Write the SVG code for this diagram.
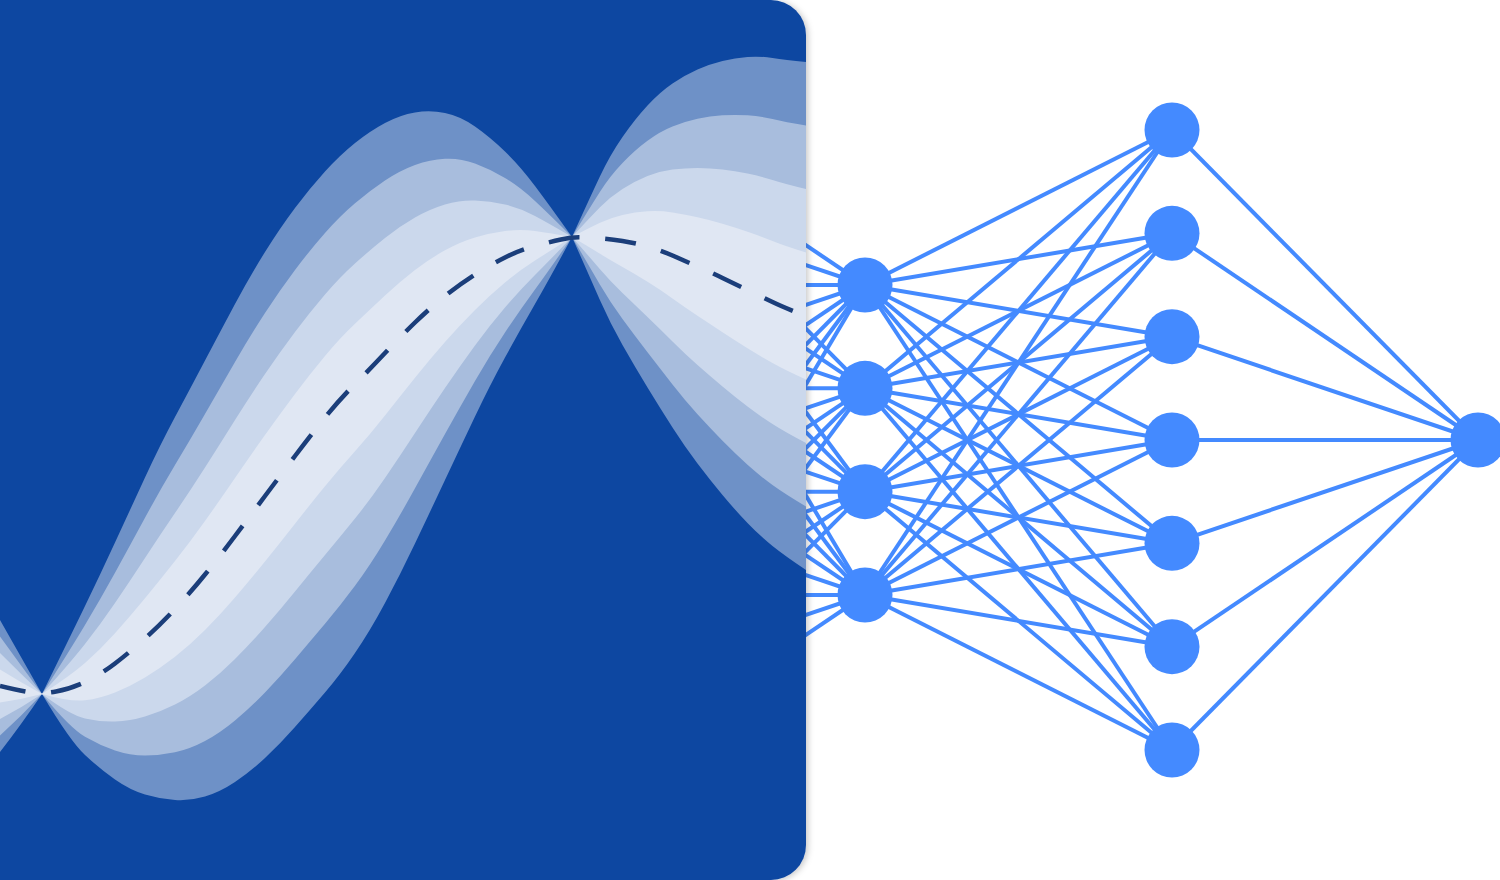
<svg xmlns="http://www.w3.org/2000/svg" width="1500" height="880" viewBox="0 0 1500 880">
  <defs>
    <style>
      .edge { stroke: #448AFF; stroke-width: 4; stroke-linecap: butt; fill: none; }
      .node { fill: #448AFF; }
      .mean { fill: none; stroke: #1B3E7A; stroke-width: 4.5; stroke-dasharray: 31 26; stroke-dashoffset: 5; stroke-linejoin: round; }
      .b4 { fill: #6E91C7; }
      .b3 { fill: #A8BDDD; }
      .b2 { fill: #CBD8EC; }
      .b1 { fill: #E0E7F3; }
    </style>
    <clipPath id="panelClip">
      <rect x="-40" y="0" width="846" height="880" rx="35"/>
    </clipPath>
    <filter id="shadow" x="-5%" y="-5%" width="112%" height="110%">
      <feDropShadow dx="2" dy="1" stdDeviation="3" flood-color="#000000" flood-opacity="0.22"/>
    </filter>
  </defs>

  <rect x="0" y="0" width="1500" height="880" fill="#FFFFFF"/>

  <g id="connectors">
    <line class="edge" x1="800" y1="241.2" x2="865" y2="285"/>
    <line class="edge" x1="800" y1="263.1" x2="865" y2="285"/>
    <line class="edge" x1="800" y1="285" x2="865" y2="285"/>
    <line class="edge" x1="800" y1="306.9" x2="865" y2="285"/>
    <line class="edge" x1="800" y1="328.8" x2="865" y2="285"/>
    <line class="edge" x1="800" y1="350.6" x2="865" y2="285"/>
    <line class="edge" x1="800" y1="372.5" x2="865" y2="285"/>
    <line class="edge" x1="800" y1="394.4" x2="865" y2="285"/>

    <line class="edge" x1="800" y1="322.7" x2="865" y2="388.3"/>
    <line class="edge" x1="800" y1="344.6" x2="865" y2="388.3"/>
    <line class="edge" x1="800" y1="366.4" x2="865" y2="388.3"/>
    <line class="edge" x1="800" y1="388.3" x2="865" y2="388.3"/>
    <line class="edge" x1="800" y1="410.2" x2="865" y2="388.3"/>
    <line class="edge" x1="800" y1="432.1" x2="865" y2="388.3"/>
    <line class="edge" x1="800" y1="454.0" x2="865" y2="388.3"/>
    <line class="edge" x1="800" y1="475.8" x2="865" y2="388.3"/>

    <line class="edge" x1="800" y1="404.2" x2="865" y2="491.7"/>
    <line class="edge" x1="800" y1="426.1" x2="865" y2="491.7"/>
    <line class="edge" x1="800" y1="448.0" x2="865" y2="491.7"/>
    <line class="edge" x1="800" y1="469.8" x2="865" y2="491.7"/>
    <line class="edge" x1="800" y1="491.7" x2="865" y2="491.7"/>
    <line class="edge" x1="800" y1="513.6" x2="865" y2="491.7"/>
    <line class="edge" x1="800" y1="535.5" x2="865" y2="491.7"/>
    <line class="edge" x1="800" y1="557.3" x2="865" y2="491.7"/>

    <line class="edge" x1="800" y1="485.6" x2="865" y2="595"/>
    <line class="edge" x1="800" y1="507.5" x2="865" y2="595"/>
    <line class="edge" x1="800" y1="529.4" x2="865" y2="595"/>
    <line class="edge" x1="800" y1="551.3" x2="865" y2="595"/>
    <line class="edge" x1="800" y1="573.1" x2="865" y2="595"/>
    <line class="edge" x1="800" y1="595" x2="865" y2="595"/>
    <line class="edge" x1="800" y1="616.9" x2="865" y2="595"/>
    <line class="edge" x1="800" y1="638.8" x2="865" y2="595"/>

    <line class="edge" x1="865" y1="285" x2="1172" y2="130"/>
    <line class="edge" x1="865" y1="285" x2="1172" y2="233.3"/>
    <line class="edge" x1="865" y1="285" x2="1172" y2="336.7"/>
    <line class="edge" x1="865" y1="285" x2="1172" y2="440"/>
    <line class="edge" x1="865" y1="285" x2="1172" y2="543.3"/>
    <line class="edge" x1="865" y1="285" x2="1172" y2="646.7"/>
    <line class="edge" x1="865" y1="285" x2="1172" y2="750"/>

    <line class="edge" x1="865" y1="388.3" x2="1172" y2="130"/>
    <line class="edge" x1="865" y1="388.3" x2="1172" y2="233.3"/>
    <line class="edge" x1="865" y1="388.3" x2="1172" y2="336.7"/>
    <line class="edge" x1="865" y1="388.3" x2="1172" y2="440"/>
    <line class="edge" x1="865" y1="388.3" x2="1172" y2="543.3"/>
    <line class="edge" x1="865" y1="388.3" x2="1172" y2="646.7"/>
    <line class="edge" x1="865" y1="388.3" x2="1172" y2="750"/>

    <line class="edge" x1="865" y1="491.7" x2="1172" y2="130"/>
    <line class="edge" x1="865" y1="491.7" x2="1172" y2="233.3"/>
    <line class="edge" x1="865" y1="491.7" x2="1172" y2="336.7"/>
    <line class="edge" x1="865" y1="491.7" x2="1172" y2="440"/>
    <line class="edge" x1="865" y1="491.7" x2="1172" y2="543.3"/>
    <line class="edge" x1="865" y1="491.7" x2="1172" y2="646.7"/>
    <line class="edge" x1="865" y1="491.7" x2="1172" y2="750"/>

    <line class="edge" x1="865" y1="595" x2="1172" y2="130"/>
    <line class="edge" x1="865" y1="595" x2="1172" y2="233.3"/>
    <line class="edge" x1="865" y1="595" x2="1172" y2="336.7"/>
    <line class="edge" x1="865" y1="595" x2="1172" y2="440"/>
    <line class="edge" x1="865" y1="595" x2="1172" y2="543.3"/>
    <line class="edge" x1="865" y1="595" x2="1172" y2="646.7"/>
    <line class="edge" x1="865" y1="595" x2="1172" y2="750"/>

    <line class="edge" x1="1172" y1="130" x2="1478" y2="440"/>
    <line class="edge" x1="1172" y1="233.3" x2="1478" y2="440"/>
    <line class="edge" x1="1172" y1="336.7" x2="1478" y2="440"/>
    <line class="edge" x1="1172" y1="440" x2="1478" y2="440"/>
    <line class="edge" x1="1172" y1="543.3" x2="1478" y2="440"/>
    <line class="edge" x1="1172" y1="646.7" x2="1478" y2="440"/>
    <line class="edge" x1="1172" y1="750" x2="1478" y2="440"/>
  </g>

  <g id="gp-panel">
    <rect x="-40" y="0" width="846" height="880" rx="35" fill="#0D47A1" filter="url(#shadow)"/>
    <g clip-path="url(#panelClip)">
      <path class="b4" d="M0,620 Q21,657 42,694 Q70,637 85,606 Q100,575 115,542.5 Q130,510 145,477.5 Q160,445 175,417 Q190,389 205,360.5 Q220,332 235,304 Q250,276 265,252 Q280,228 295,208 Q310,188 325,171.5 Q340,155 355,143 Q370,131 385,123 Q400,115 415,112.5 Q430,110 445,113 Q460,116 475,126.5 Q490,137 505,151.5 Q520,166 535,186 Q550,206 572,237 Q590,197.5 600,176.3 Q610,155 622.5,137 Q635,119 647.5,105.5 Q660,92 672.5,83.5 Q685,75 697.5,69.5 Q710,64 722.5,61 Q735,58 747.5,57 Q760,56 772.5,58 Q785,60 806,62 L812,62 L812,570 L806,570 Q785,556 772.5,546 Q760,536 747.5,523 Q735,510 722.5,495 Q710,480 697.5,463.5 Q685,447 672.5,427.5 Q660,408 647.5,387.5 Q635,367 622.5,345 Q610,323 600,300.3 Q590,277.5 572,237 Q550,278 535,304 Q520,330 505,357.5 Q490,385 475,416.5 Q460,448 445,480 Q430,512 415,543.5 Q400,575 385,603 Q370,631 355,653 Q340,675 325,692.5 Q310,710 295,727 Q280,744 265,758 Q250,772 235,782 Q220,792 205,796.5 Q190,801 175,800 Q160,799 145,794.5 Q130,790 115,779.5 Q100,769 85,755 Q70,741 42,694 Q21,725 0,752 Z"/>
      <path class="b3" d="M0,636.5 Q21,665.5 42,694 Q70,650 85,625 Q100,600 115,572.8 Q130,545.5 145,517.8 Q160,490 175,465 Q190,440 205,414 Q220,388 235,362 Q250,336 265,313 Q280,290 295,270 Q310,250 325,233 Q340,216 355,203.3 Q370,190.5 385,180.5 Q400,170.5 415,165 Q430,159.5 445,158.8 Q460,158 475,163.5 Q490,169 505,178 Q520,187 535,201 Q550,215 572,237 Q590,207.5 600,191.8 Q610,176 622.5,163 Q635,150 647.5,140.8 Q660,131.5 672.5,126.5 Q685,121.5 697.5,118.8 Q710,116 722.5,115.3 Q735,114.5 747.5,115.3 Q760,116 772.5,119 Q785,122 806,125.5 L812,125.5 L812,506.5 L806,506.5 Q785,494 772.5,485 Q760,476 747.5,464.8 Q735,453.5 722.5,440.8 Q710,428 697.5,414.3 Q685,400.5 672.5,384.5 Q660,368.5 647.5,352.3 Q635,336 622.5,319 Q610,302 600,284.8 Q590,267.5 572,237 Q550,269 535,289.5 Q520,310 505,332.5 Q490,355 475,381 Q460,407 445,434 Q430,461 415,488.3 Q400,515.5 385,540.5 Q370,565.5 355,585.8 Q340,606 325,623.8 Q310,641.5 295,659.3 Q280,677 265,692.5 Q250,708 235,720.5 Q220,733 205,741 Q190,749 175,752.3 Q160,755.5 145,755.5 Q130,755.5 115,750.5 Q100,745.5 85,736.8 Q70,728 42,694 Q21,716.5 0,735.5 Z"/>
      <path class="b2" d="M0,653 Q21,674 42,694 Q70,663 85,644 Q100,625 115,603 Q130,581 145,558 Q160,535 175,513 Q190,491 205,467.5 Q220,444 235,420 Q250,396 265,374 Q280,352 295,332 Q310,312 325,294.5 Q340,277 355,263.5 Q370,250 385,238 Q400,226 415,217.5 Q430,209 445,204.5 Q460,200 475,200.5 Q490,201 505,204.5 Q520,208 535,216 Q550,224 572,237 Q590,217.5 600,207.3 Q610,197 622.5,189 Q635,181 647.5,176 Q660,171 672.5,169.5 Q685,168 697.5,168 Q710,168 722.5,169.5 Q735,171 747.5,173.5 Q760,176 772.5,180 Q785,184 806,189 L812,189 L812,443 L806,443 Q785,432 772.5,424 Q760,416 747.5,406.5 Q735,397 722.5,386.5 Q710,376 697.5,365 Q685,354 672.5,341.5 Q660,329 647.5,317 Q635,305 622.5,293 Q610,281 600,269.3 Q590,257.5 572,237 Q550,260 535,275 Q520,290 505,307.5 Q490,325 475,345.5 Q460,366 445,388 Q430,410 415,433 Q400,456 385,478 Q370,500 355,518.5 Q340,537 325,555 Q310,573 295,591.5 Q280,610 265,627 Q250,644 235,659 Q220,674 205,685.5 Q190,697 175,704.5 Q160,712 145,716.5 Q130,721 115,721.5 Q100,722 85,718.5 Q70,715 42,694 Q21,708 0,719 Z"/>
      <path class="b1" d="M0,669.5 Q21,682.5 42,694 Q70,676 85,663 Q100,650 115,633.3 Q130,616.5 145,598.3 Q160,580 175,561 Q190,542 205,521 Q220,500 235,478 Q250,456 265,435 Q280,414 295,394 Q310,374 325,356 Q340,338 355,323.8 Q370,309.5 385,295.5 Q400,281.5 415,270 Q430,258.5 445,250.3 Q460,242 475,237.5 Q490,233 505,231 Q520,229 535,231 Q550,233 572,237 Q590,227.5 600,222.8 Q610,218 622.5,215 Q635,212 647.5,211.3 Q660,210.5 672.5,212.5 Q685,214.5 697.5,217.3 Q710,220 722.5,223.8 Q735,227.5 747.5,231.8 Q760,236 772.5,241 Q785,246 806,252.5 L812,252.5 L812,379.5 L806,379.5 Q785,370 772.5,363 Q760,356 747.5,348.3 Q735,340.5 722.5,332.3 Q710,324 697.5,315.8 Q685,307.5 672.5,298.5 Q660,289.5 647.5,281.8 Q635,274 622.5,267 Q610,260 600,253.8 Q590,247.5 572,237 Q550,251 535,260.5 Q520,270 505,282.5 Q490,295 475,310 Q460,325 445,342 Q430,359 415,377.8 Q400,396.5 385,415.5 Q370,434.5 355,451.3 Q340,468 325,486.3 Q310,504.5 295,523.8 Q280,543 265,561.5 Q250,580 235,597.5 Q220,615 205,630 Q190,645 175,656.8 Q160,668.5 145,677.5 Q130,686.5 115,692.5 Q100,698.5 85,700.3 Q70,702 42,694 Q21,699.5 0,702.5 Z"/>
      <path class="mean" d="M0,686 Q21,691 31.5,692.5 Q42,694 56,691.5 Q70,689 85,682 Q100,675 115,663.5 Q130,652 145,638.5 Q160,625 175,609 Q190,593 205,574.5 Q220,556 235,536 Q250,516 265,496 Q280,476 295,456 Q310,436 325,417.5 Q340,399 355,384 Q370,369 385,353 Q400,337 415,322.5 Q430,308 445,296 Q460,284 475,274.5 Q490,265 505,257.5 Q520,250 535,246 Q550,242 561,239.5 Q572,237 581,237.3 Q590,237.5 600,238.3 Q610,239 622.5,241 Q635,243 647.5,246.5 Q660,250 672.5,255.5 Q685,261 697.5,266.5 Q710,272 722.5,278 Q735,284 747.5,290 Q760,296 772.5,302 Q785,308 806,316"/>
    </g>
  </g>

  <g id="node-h1-1"><circle class="node" cx="865" cy="285" r="27.5"/></g>
  <g id="node-h1-2"><circle class="node" cx="865" cy="388.3" r="27.5"/></g>
  <g id="node-h1-3"><circle class="node" cx="865" cy="491.7" r="27.5"/></g>
  <g id="node-h1-4"><circle class="node" cx="865" cy="595" r="27.5"/></g>

  <g id="node-h2-1"><circle class="node" cx="1172" cy="130" r="27.5"/></g>
  <g id="node-h2-2"><circle class="node" cx="1172" cy="233.3" r="27.5"/></g>
  <g id="node-h2-3"><circle class="node" cx="1172" cy="336.7" r="27.5"/></g>
  <g id="node-h2-4"><circle class="node" cx="1172" cy="440" r="27.5"/></g>
  <g id="node-h2-5"><circle class="node" cx="1172" cy="543.3" r="27.5"/></g>
  <g id="node-h2-6"><circle class="node" cx="1172" cy="646.7" r="27.5"/></g>
  <g id="node-h2-7"><circle class="node" cx="1172" cy="750" r="27.5"/></g>

  <g id="node-out"><circle class="node" cx="1478" cy="440" r="27.5"/></g>
</svg>
